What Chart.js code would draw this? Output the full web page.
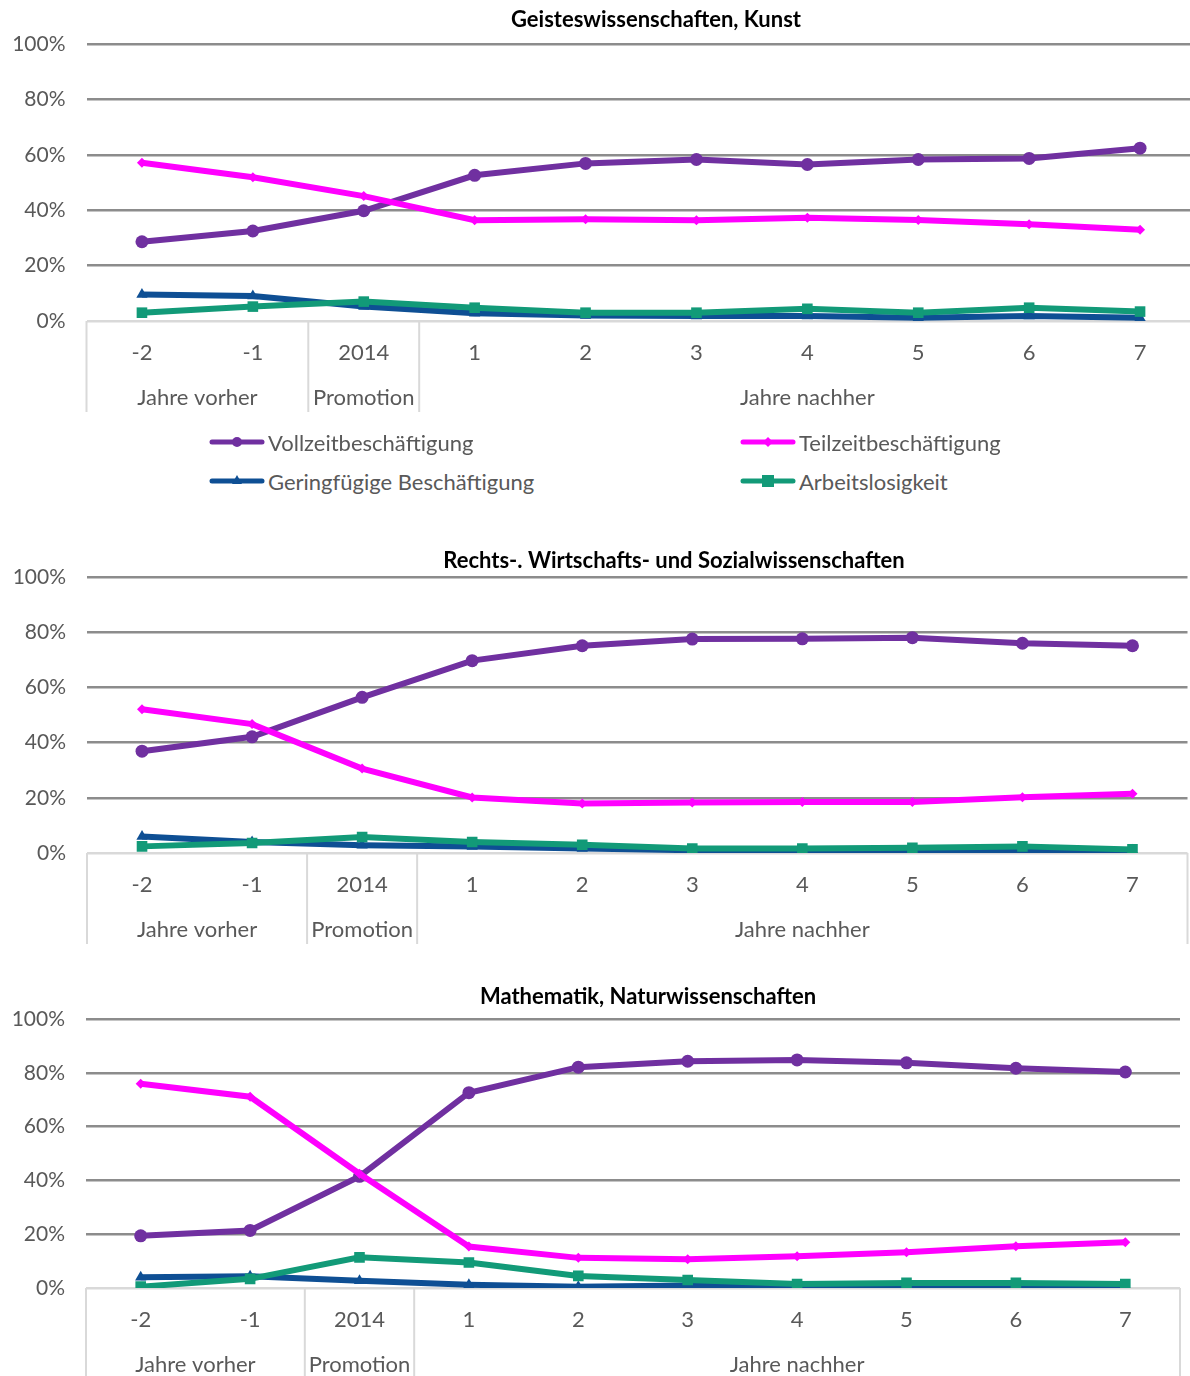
<!DOCTYPE html>
<html>
<head>
<meta charset="utf-8">
<script src="https://cdn.jsdelivr.net/npm/chart.js@4"></script>
<style>
  html, body { margin:0; padding:0; background:#fff; overflow:hidden; width:1190px; height:1376px; position:relative; }
  canvas { position:absolute; left:0; }
  .legend { position:absolute; font-family: Lato, "Open Sans", sans-serif; font-size:22px; color:#595959; display:flex; align-items:center; white-space:nowrap; }
  .legend svg { margin-right:3px; }
</style>
</head>
<body>
<canvas id="c1" width="1203" height="430" style="top:0px;width:1203px;height:430px;"></canvas>
<canvas id="c2" width="1195" height="430" style="top:530px;width:1195px;height:430px;"></canvas>
<canvas id="c3" width="1190" height="406" style="top:970px;width:1190px;height:406px;"></canvas>
<div id="legend"></div>
<script>
// ---------- DATA ----------
const categories = ['-2', '-1', '2014', '1', '2', '3', '4', '5', '6', '7'];
const groupLabels = ['Jahre vorher', 'Promotion', 'Jahre nachher'];
const groupFrom = [0, 2, 3];
const groupTo = [1, 2, 9];
const yTickValues = [0, 20, 40, 60, 80, 100];
const seriesNames = ['Vollzeitbeschäftigung', 'Teilzeitbeschäftigung', 'Geringfügige Beschäftigung', 'Arbeitslosigkeit'];

const titles = ['Geisteswissenschaften, Kunst', 'Rechts-. Wirtschafts- und Sozialwissenschaften', 'Mathematik, Naturwissenschaften'];

const geistVoll   = [28.6, 32.5, 39.8, 52.6, 56.9, 58.3, 56.5, 58.3, 58.7, 62.4];
const geistTeil   = [57.1, 51.9, 45.1, 36.4, 36.7, 36.4, 37.3, 36.5, 34.9, 32.9];
const geistGering = [9.6, 9.0, 5.2, 2.8, 2.0, 1.8, 1.8, 1.2, 1.8, 1.2];
const geistArbeit = [3.0, 5.2, 7.0, 4.8, 3.0, 3.0, 4.4, 3.0, 4.8, 3.4];

const rechtVoll   = [36.9, 42.1, 56.4, 69.7, 75.1, 77.5, 77.6, 78.0, 76.0, 75.1];
const rechtTeil   = [52.1, 46.7, 30.6, 20.1, 17.9, 18.3, 18.5, 18.5, 20.2, 21.5];
const rechtGering = [6.0, 4.0, 2.8, 2.4, 1.6, 1.0, 1.0, 0.8, 0.5, 1.0];
const rechtArbeit = [2.4, 3.6, 5.8, 4.0, 3.0, 1.6, 1.6, 1.9, 2.4, 1.3];

const mathVoll    = [19.4, 21.4, 41.5, 72.6, 82.1, 84.3, 84.8, 83.7, 81.7, 80.3];
const mathTeil    = [75.9, 71.1, 42.5, 15.4, 11.2, 10.7, 11.8, 13.3, 15.5, 17.0];
const mathGering  = [4.0, 4.4, 2.7, 1.2, 0.5, 0.9, 0.5, 0.3, 0.5, 0.8];
const mathArbeit  = [0.5, 3.4, 11.4, 9.5, 4.5, 3.0, 1.5, 1.9, 1.9, 1.5];

// ---------- STYLE ----------
const FONT = 'Lato, "Open Sans", sans-serif';
const TXT = '#595959';
const colors = ['#7030A0', '#FF00FF', '#0E4F94', '#129A78'];
const pointStyles = ['circle', 'rectRot', 'triangle', 'rect'];
const pointRadii = [6.5, 5, 6.5, 7.5];
const orders = [3, 2, 1, 0];

const groupPlugin = {
  id: 'groupPlugin',
  afterDraw(chart, args, opts) {
    const ctx = chart.ctx;
    const xs = chart.scales.x;
    const ca = chart.chartArea;
    const step = xs.getPixelForValue(1) - xs.getPixelForValue(0);
    ctx.save();
    ctx.strokeStyle = '#d9d9d9';
    ctx.lineWidth = 2;
    const bounds = [];
    for (let g = 0; g < groupFrom.length; g++) {
      bounds.push(xs.getPixelForValue(groupFrom[g]) - step / 2);
    }
    bounds.push(xs.getPixelForValue(groupTo[groupTo.length - 1]) + step / 2);
    bounds.forEach(b => {
      ctx.beginPath();
      ctx.moveTo(b, ca.bottom);
      ctx.lineTo(b, ca.bottom + opts.divLen);
      ctx.stroke();
    });
    ctx.fillStyle = TXT;
    ctx.font = '22px ' + FONT;
    ctx.textAlign = 'center';
    ctx.textBaseline = 'middle';
    for (let g = 0; g < groupLabels.length; g++) {
      const cx = (bounds[g] + bounds[g + 1]) / 2;
      ctx.fillText(groupLabels[g], cx, ca.bottom + opts.labelOff);
    }
    ctx.fillStyle = '#000';
    ctx.font = 'bold 22px ' + FONT;
    ctx.fillText(opts.title, opts.titleX, opts.titleY);
    ctx.restore();
  }
};

function makeChart(id, data4, cfg) {
  const datasets = data4.map((arr, i) => ({
    label: seriesNames[i],
    data: arr,
    borderColor: colors[i],
    backgroundColor: colors[i],
    borderWidth: 6,
    pointStyle: pointStyles[i],
    pointRadius: pointRadii[i],
    pointBorderWidth: 0,
    pointHoverRadius: pointRadii[i],
    order: orders[i],
    tension: 0,
    fill: false
  }));
  return new Chart(document.getElementById(id), {
    type: 'line',
    data: { labels: categories, datasets },
    options: {
      responsive: false,
      animation: false,
      devicePixelRatio: 1,
      layout: { padding: { top: cfg.padTop, bottom: cfg.padBottom, left: 0, right: cfg.padRight } },
      plugins: {
        legend: { display: false },
        tooltip: { enabled: false },
        title: { display: false },
        groupPlugin: { title: cfg.title, titleX: cfg.titleX, titleY: cfg.titleY, divLen: 91, labelOff: 77 }
      },
      scales: {
        x: {
          type: 'category',
          offset: true,
          grid: { display: false, drawTicks: false },
          border: { display: false },
          ticks: { color: TXT, font: { family: FONT, size: 22 }, padding: 19, maxRotation: 0, autoSkip: false },
          afterFit: s => { s.height = 60; }
        },
        y: {
          min: 0, max: 100,
          afterBuildTicks: s => { s.ticks = yTickValues.map(v => ({ value: v })); },
          grid: {
            drawTicks: false,
            lineWidth: 2.5,
            color: c => (c.tick && c.tick.value === 0) ? '#d9d9d9' : '#8c8c8c'
          },
          border: { display: false },
          ticks: { color: TXT, font: { family: FONT, size: 21 }, padding: 21, callback: v => v + '%' },
          afterFit: s => { s.width = cfg.yWidth; }
        }
      }
    },
    plugins: [groupPlugin]
  });
}

makeChart('c1', [geistVoll, geistTeil, geistGering, geistArbeit],
  { padTop: 44, padBottom: 49, padRight: 2, yWidth: 86.5, title: titles[0], titleX: 656, titleY: 20 });
makeChart('c2', [rechtVoll, rechtTeil, rechtGering, rechtArbeit],
  { padTop: 47, padBottom: 47, padRight: 3, yWidth: 87, title: titles[1], titleX: 674, titleY: 31 });
makeChart('c3', [mathVoll, mathTeil, mathGering, mathArbeit],
  { padTop: 49, padBottom: 28, padRight: 10, yWidth: 86, title: titles[2], titleX: 648, titleY: 27 });

// ---------- LEGEND (HTML) ----------
function markerSvg(i) {
  const c = colors[i];
  let m = '';
  if (i === 0) m = `<circle cx="28" cy="8" r="5" fill="${c}"/>`;
  if (i === 1) m = `<polygon points="28,3 33,8 28,13 23,8" fill="${c}"/>`;
  if (i === 2) m = `<polygon points="28,2 33,11 23,11" fill="${c}"/>`;
  if (i === 3) m = `<rect x="22" y="2" width="12" height="12" fill="${c}"/>`;
  return `<svg width="56" height="16"><line x1="3" y1="8" x2="53" y2="8" stroke="${c}" stroke-width="5" stroke-linecap="round"/>${m}</svg>`;
}
const legendPos = [[209, 442], [740, 442], [209, 481], [740, 481]];
const lg = document.getElementById('legend');
seriesNames.forEach((n, i) => {
  const d = document.createElement('div');
  d.className = 'legend';
  d.style.left = legendPos[i][0] + 'px';
  d.style.top = (legendPos[i][1] - 13) + 'px';
  d.style.height = '26px';
  d.innerHTML = markerSvg(i) + '<span>' + n + '</span>';
  lg.appendChild(d);
});
</script>
</body>
</html>
